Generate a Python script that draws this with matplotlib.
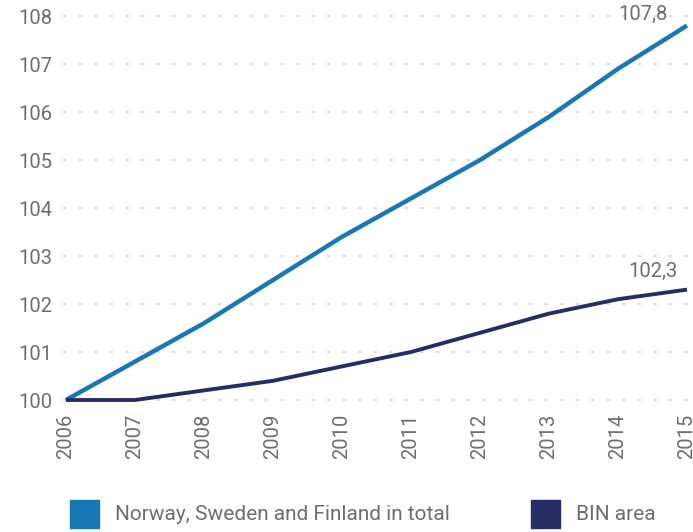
import matplotlib
matplotlib.use("Agg")
import matplotlib.pyplot as plt
from matplotlib.patches import Rectangle

years = [2006, 2007, 2008, 2009, 2010, 2011, 2012, 2013, 2014, 2015]
nordic = [100.0, 100.8, 101.6, 102.5, 103.4, 104.2, 105.0, 105.9, 106.9, 107.8]
bin_area = [100.0, 100.0, 100.2, 100.4, 100.7, 101.0, 101.4, 101.8, 102.1, 102.3]
yticks = [100, 101, 102, 103, 104, 105, 106, 107, 108]
series_names = ["Norway, Sweden and Finland in total", "BIN area"]
end_labels = ["107,8", "102,3"]

c_blue = "#1878b6"
c_navy = "#252d64"
c_text = "#6e6e6e"
c_grid = "#d9d9d9"

plt.rcParams['font.family'] = ['Roboto', 'DejaVu Sans']
FS = 14.5

fig = plt.figure(figsize=(6.93, 5.32), dpi=100)
ax = fig.add_axes([66/693, 1-400/532, (687-66)/693, (400-16)/532])
ax.set_xlim(2006, 2015)
ax.set_ylim(100, 108)

for y in yticks:
    ax.plot([2005.95, 2015.05], [y, y], color=c_grid, lw=1.3, ls=(0, (2.0, 6.6)),
            clip_on=False, zorder=1)

ax.plot(years, nordic, color=c_blue, lw=3.2, clip_on=False, zorder=3,
        solid_capstyle='butt')
ax.plot(years, bin_area, color=c_navy, lw=2.8, clip_on=False, zorder=3,
        solid_capstyle='butt')

for s in ax.spines.values():
    s.set_visible(False)
ax.set_yticks(yticks)
ax.set_yticklabels([str(v) for v in yticks])
ax.set_xticks(years)
ax.set_xticklabels([str(v) for v in years], rotation=90)
ax.tick_params(length=0, colors=c_text, labelsize=FS)
ax.tick_params(axis='y', pad=10)
ax.tick_params(axis='x', pad=10)

ax.annotate(end_labels[0], (years[-1], nordic[-1]), xytext=(-14, 8),
            textcoords='offset points', ha='right', va='center',
            color=c_text, fontsize=FS, annotation_clip=False)
ax.annotate(end_labels[1], (years[-1], bin_area[-1]), xytext=(-6.5, 13),
            textcoords='offset points', ha='right', va='center',
            color=c_text, fontsize=FS, annotation_clip=False)

# legend
fig.patches.append(Rectangle((70/693, 1-528/532), 29/693, 28/532,
                             transform=fig.transFigure, color=c_blue))
fig.text(115/693, 1-515/532, series_names[0], color=c_text, fontsize=15,
         va='center', ha='left')
fig.patches.append(Rectangle((531/693, 1-528/532), 29/693, 28/532,
                             transform=fig.transFigure, color=c_navy))
fig.text(576/693, 1-515/532, series_names[1], color=c_text, fontsize=15,
         va='center', ha='left')

fig.savefig("out.png", dpi=100)
